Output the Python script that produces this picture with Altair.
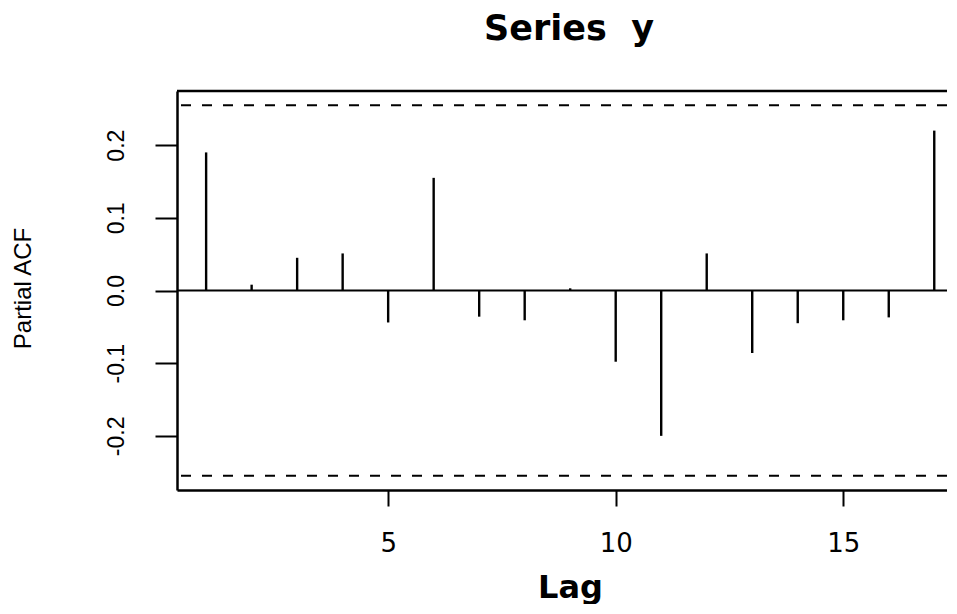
import altair as alt
import pandas as pd

# ---- data ----
lags = list(range(1, 18))
pacf = [0.190, 0.008, 0.045, 0.051, -0.044, 0.155, -0.036, -0.041, 0.003,
        -0.098, -0.200, 0.051, -0.086, -0.045, -0.041, -0.037, 0.220]
ci_bounds = [0.255, -0.255]
y_ticks = [-0.2, -0.1, 0.0, 0.1, 0.2]
x_ticks = [5, 10, 15]
chart_title = "Series \u00a0y"
x_title = "Lag"
y_title = "Partial ACF"

df = pd.DataFrame({"lag": lags, "pacf": pacf})
ci_df = pd.DataFrame({"ci": ci_bounds})

FONT = "Liberation Sans"
WIDE = "DejaVu Sans"
W, H = 770, 399
xscale = alt.Scale(domain=[0.36, 17.28], nice=False, zero=False)
yscale = alt.Scale(domain=[-0.2745, 0.2745], nice=False, zero=False)

ylab = "datum.value < 0 ? '-' + format(-datum.value, '.1f') : format(datum.value, '.1f')"

spikes = alt.Chart(df).mark_rule(color="black", strokeWidth=2.4).encode(
    x=alt.X("lag:Q", scale=xscale,
            axis=alt.Axis(values=x_ticks, title=x_title, grid=False,
                          domainColor="black", domainWidth=2.5,
                          tickColor="black", tickWidth=2, tickSize=16,
                          labelPadding=24, labelFont=WIDE, labelFontSize=26,
                          labelColor="black",
                          titleFont=WIDE, titleFontSize=32, titleFontWeight="bold",
                          titleColor="black", titleX=393, titleY=107,
                          titleBaseline="alphabetic", titleAlign="center")),
    y=alt.Y("pacf:Q", scale=yscale,
            axis=alt.Axis(values=y_ticks, labelExpr=ylab, title=y_title, grid=False,
                          domainColor="black", domainWidth=2.5,
                          tickColor="black", tickWidth=2, tickSize=22,
                          labelAngle=270, labelAlign="center", labelBaseline="bottom",
                          labelPadding=27, labelFont=FONT, labelFontSize=23,
                          labelColor="black",
                          titleFont=FONT, titleFontSize=24, titleFontWeight="normal",
                          titleColor="black",
                          titleAngle=270, titleX=-154, titleY=197,
                          titleAlign="center", titleBaseline="middle")),
    y2=alt.datum(0),
)

zero_line = alt.Chart(df).mark_rule(color="black", strokeWidth=2).encode(
    y=alt.Y("z:Q", scale=yscale)
).transform_calculate(z="0").transform_aggregate(z="min(z)")

ci_lines = alt.Chart(ci_df).mark_rule(color="black", strokeWidth=2,
                                      strokeDash=[10, 11]).encode(
    y=alt.Y("ci:Q", scale=yscale)
)

top_frame = alt.Chart(ci_df).mark_rule(color="black", strokeWidth=2.5).encode(
    y=alt.value(0)
).transform_aggregate(n="count()")

chart = alt.layer(spikes, zero_line, ci_lines, top_frame).properties(
    width=W, height=H,
    title=alt.TitleParams(chart_title, font=WIDE, fontSize=35, fontWeight="bold",
                          color="black", anchor="middle", dx=7, offset=15,
                          baseline="alphabetic"),
    autosize=alt.AutoSizeParams(type="none"),
    padding={"left": 169, "top": 83, "right": 0, "bottom": 114},
).configure_view(stroke=None).configure(background="white")

chart.save("out.html", embed_options={"renderer": "svg", "actions": False})
